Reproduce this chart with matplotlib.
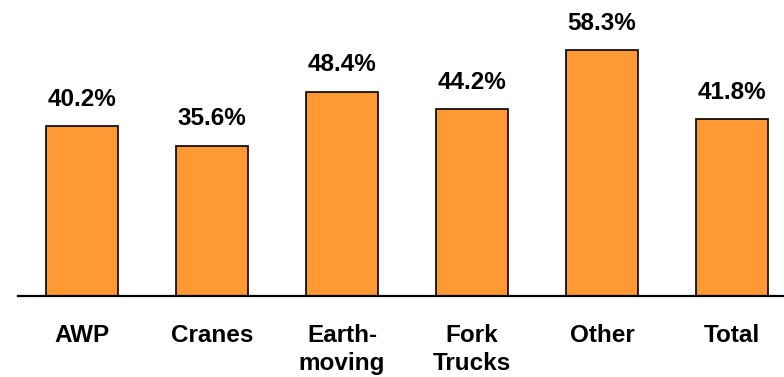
import matplotlib
matplotlib.use("Agg")
import matplotlib.pyplot as plt
import numpy as np

plt.rcParams['font.family'] = ['Liberation Sans', 'DejaVu Sans']

# share of units by equipment category
categories = ['AWP', 'Cranes', 'Earth-\nmoving', 'Fork\nTrucks', 'Other', 'Total']
values = [40.2, 35.6, 48.4, 44.2, 58.3, 41.8]

fig = plt.figure(figsize=(7.84, 3.77), dpi=100)
ax = fig.add_axes([18 / 784, (377 - 296) / 377, 766 / 784, 296 / 377])

x = np.arange(len(categories))
bars = ax.bar(x, values, width=0.554, color='#FF9933', edgecolor='black', linewidth=1.2, zorder=2)

for xi, v in zip(x, values):
    ax.annotate(f'{v:.1f}%', xy=(xi, v), xytext=(0, 11), textcoords='offset points',
                ha='center', va='bottom', fontsize=17.5, fontweight='bold')

ax.set_xlim(-0.492, 5.4)
ax.set_ylim(0, 70.1)
ax.set_xticks(x)
ax.set_xticklabels(categories, fontsize=17.5, fontweight='bold', linespacing=1.3)
ax.tick_params(axis='x', length=0, pad=20)
ax.set_yticks([])
for side in ['top', 'right', 'left']:
    ax.spines[side].set_visible(False)
ax.spines['bottom'].set_linewidth(1.6)
ax.spines['bottom'].set_zorder(3)

fig.savefig('out.png', dpi=100)
